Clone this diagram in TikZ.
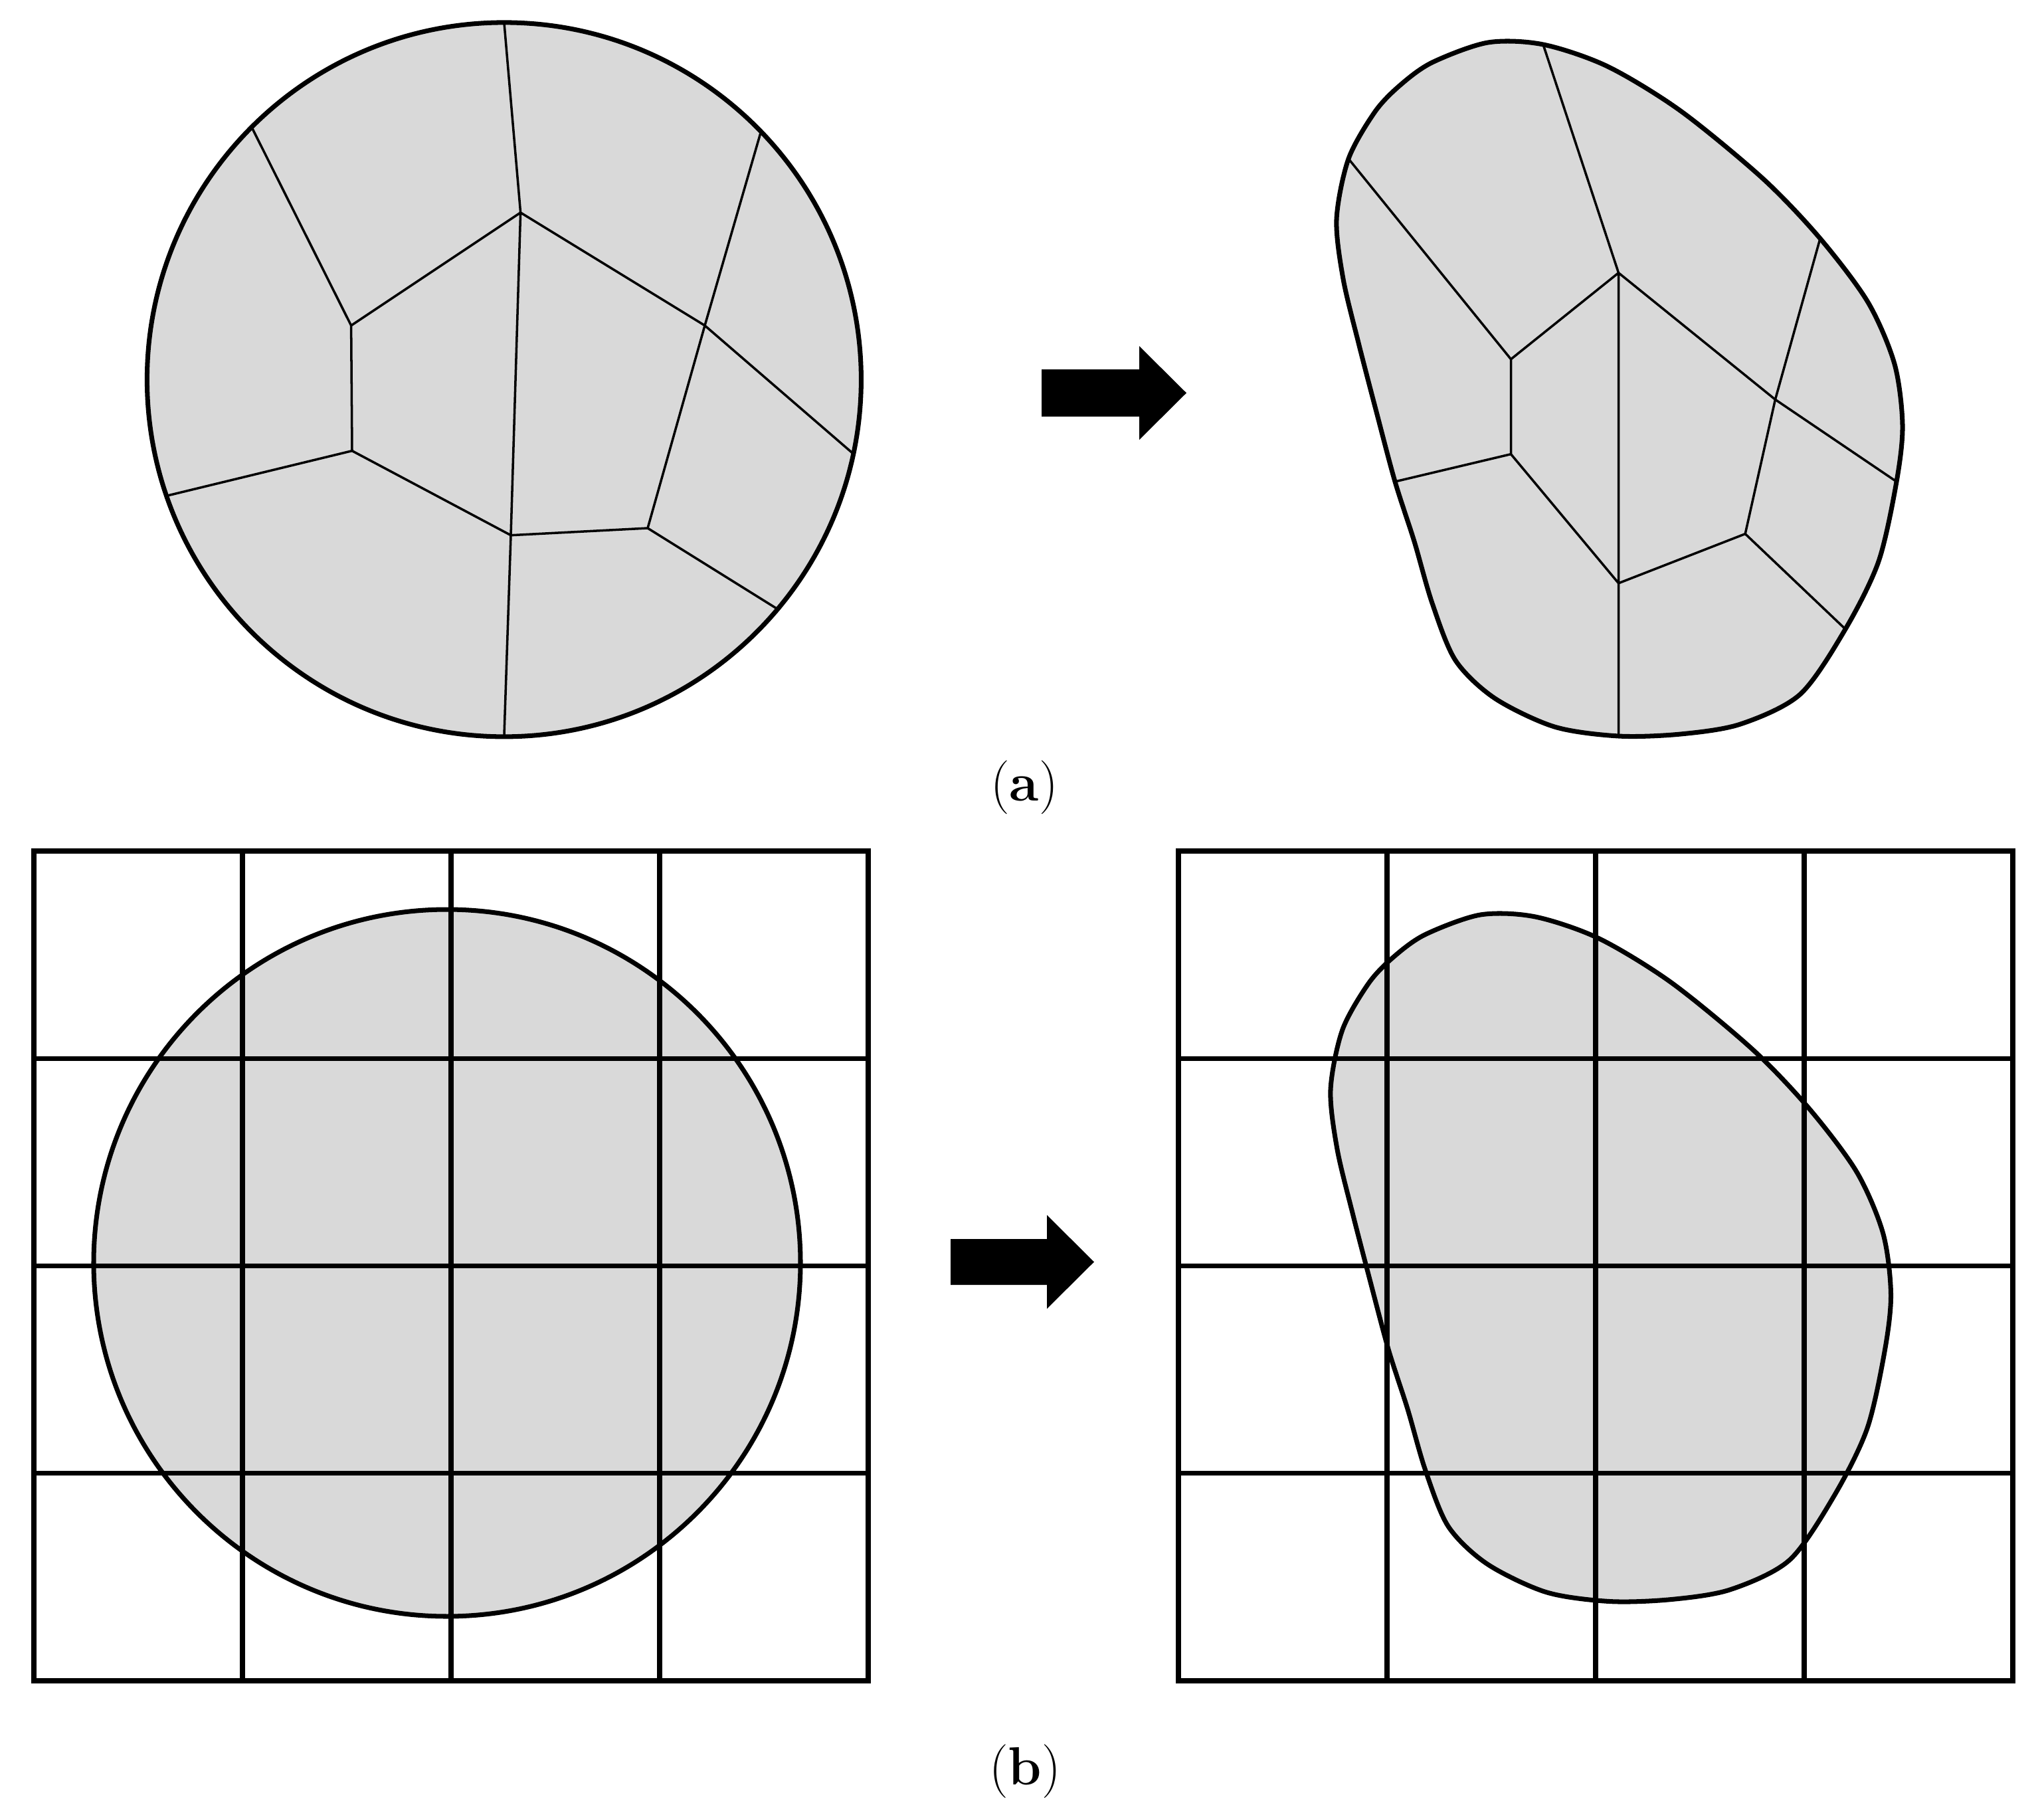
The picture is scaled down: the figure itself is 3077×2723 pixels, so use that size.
\documentclass[tikz,border=0pt]{standalone}
\usepackage{fontspec}
\usepackage{tikz}

\definecolor{cellgray}{gray}{0.85}
% closed outline of the deformed grain (pixel units of the figure)
\newcommand{\blobpath}{plot[smooth cycle] coordinates {(2156,94) (2240,64) (2323,67) (2420,100) (2530,167) (2654,269) (2740,359) (2812,455) (2852,548) (2864,640) (2855,725) (2828,845) (2778,947) (2710,1045) (2620,1090) (2530,1105) (2436.5,1108) (2340,1094) (2250,1051) (2191,994) (2156,908) (2129,815) (2100,725) (2072,620) (2045,516) (2022,420) (2012,330) (2030,239) (2070,168) (2108,128)}}

\begin{document}
\begin{tikzpicture}[x=0.1mm, y=-0.1mm,
    outline/.style={line width=2pt},
    cellline/.style={line width=1pt, line join=round},
    gridline/.style={line width=2.1pt},
    grain/.style={circle, draw, outline, fill=cellgray, inner sep=0pt, outer sep=0pt},
    caption/.style={inner sep=0pt, font=\fontsize{23}{28}\selectfont}]
\useasboundingbox (0,0) rectangle (3077,2723);

% (a) left: round grain split into cells
\node[grain, minimum size=107.5mm] (grainA) at (758.9,571.4) {};
\coordinate (P1) at (783.6,320);
\coordinate (P2) at (528.6,490);
\coordinate (P3) at (530,678.6);
\coordinate (P4) at (769,805.7);
\coordinate (P5) at (975,795);
\coordinate (P6) at (1061,490);

\draw[cellline] (grainA.90.2) -- (P1) -- (P2) -- (P3) -- (P4) -- (P5) -- (P6) -- (P1) -- (P4) -- (grainA.270.3);
\draw[cellline] (P2) -- (grainA.135.2);
\draw[cellline] (P3) -- (grainA.199);
\draw[cellline] (P5) -- (grainA.320.8);
\draw[cellline] (P6) -- (grainA.348.2);
\draw[cellline] (grainA.44.7) -- (P6);

% (a) right: deformed grain
\fill[cellgray] \blobpath;
\coordinate (Q1) at (2436.5,410.7);
\coordinate (Q2) at (2274.5,540.7);
\coordinate (Q3) at (2274.5,683.6);
\coordinate (Q4) at (2436.5,877.9);
\coordinate (Q5) at (2627.2,803.6);
\coordinate (Q6) at (2672.4,601.4);
\coordinate (B1) at (2323,67);
\coordinate (B2) at (2030,239);
\coordinate (B3) at (2100,725);
\coordinate (B4) at (2436.5,1108);
\coordinate (B5) at (2778,947);
\coordinate (B6) at (2855,725);
\coordinate (B7) at (2740,359);

\draw[cellline] (B1) -- (Q1) -- (Q2) -- (Q3) -- (Q4) -- (Q5) -- (Q6) -- (Q1) -- (Q4) -- (B4);
\draw[cellline] (Q2) -- (B2);
\draw[cellline] (Q3) -- (B3);
\draw[cellline] (Q5) -- (B5);
\draw[cellline] (Q6) -- (B6);
\draw[cellline] (B7) -- (Q6);
\draw[outline] \blobpath;

% arrows
\fill (1568,556) -- (1715,556) -- (1715,521) -- (1786,591.5) -- (1715,662) -- (1715,627) -- (1568,627) -- cycle;
\fill (1431,1865) -- (1576,1865) -- (1576,1829) -- (1647,1899.5) -- (1576,1970) -- (1576,1934) -- (1431,1934) -- cycle;

\node[caption] (capA) at (1542,1185) {(\textbf{a})};

% (b) left: round grain on the grid
\node[grain, minimum size=106.4mm] (grainB) at (673,1901) {};
\draw[gridline] (51,1281) rectangle (1307,2530);
\foreach \i in {1,2,3} {
  \draw[gridline] ({51+314*\i},1281) -- ({51+314*\i},2530);
  \draw[gridline] (51,{1281+312.25*\i}) -- (1307,{1281+312.25*\i});
}

% (b) right: deformed grain on the grid
\begin{scope}[shift={(11.1,1313.6)}, scale=0.99]
  \draw[outline, fill=cellgray] \blobpath;
\end{scope}
\draw[gridline] (1774,1281) rectangle (3030,2530);
\foreach \i in {1,2,3} {
  \draw[gridline] ({1774+314*\i},1281) -- ({1774+314*\i},2530);
  \draw[gridline] (1774,{1281+312.25*\i}) -- (3030,{1281+312.25*\i});
}

\node[caption] (capB) at (1543,2666) {(\textbf{b})};
\end{tikzpicture}
\end{document}
